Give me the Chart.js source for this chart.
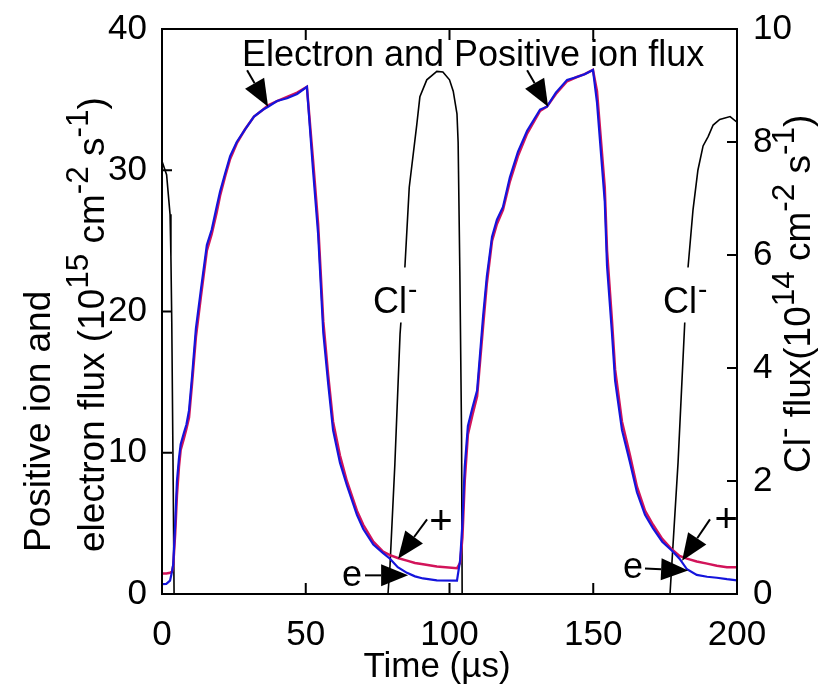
<!DOCTYPE html>
<html>
<head>
<meta charset="utf-8">
<script src="https://cdn.jsdelivr.net/npm/chart.js@4.4.0/dist/chart.umd.min.js"></script>
<style>html,body{margin:0;padding:0;background:#fff}</style>
</head>
<body>
<canvas id="fluxChart" width="822" height="686"></canvas>
<script>
// time axis (µs) shared by the ion and electron flux traces
const tFlux = [0, 1.5, 2.8, 3.5, 3.9, 4.6, 5.2, 5.9, 6.5, 7.6, 8.5, 9.4, 10.5, 11.8, 13.5, 15.6, 17.3, 19.0, 20.2, 22.0, 23.7, 26.0, 28.9, 32.0, 35.2, 36.9, 40.0, 43.5, 47.0, 50.4,
  52.5, 54.3, 56.1, 57.8, 59.5, 61.9, 64.3, 67.8, 70.0, 73.5, 76.9, 79.3, 82.0, 85.2, 88.0, 90.8, 95.6, 102.6,
  103.7, 104.5, 105.3, 106.4, 108.0, 109.6, 111.7, 113.0, 114.8, 116.5, 118.6, 121.0, 123.8, 127.0, 131.5, 133.9, 137.0, 140.9, 144.3, 147.0, 149.9,
  151.3, 154.0, 154.8, 156.5, 157.6, 160.0, 162.8, 165.2, 168.0, 170.8, 174.0, 177.4, 180.0, 182.6, 186.0, 189.6, 193.0, 196.5, 200];
// electron flux (1e15 cm^-2 s^-1)
const electronFlux = [0.70, 0.72, 0.95, 1.6, 2.1, 5.0, 8.0, 9.6, 10.6, 11.4, 12.0, 13.0, 15.5, 18.8, 21.5, 24.7, 25.8, 27.4, 28.5, 29.8, 31.0, 32.0, 32.9, 33.8, 34.3, 34.5, 34.9, 35.1, 35.4, 35.9,
  30.1, 25.5, 18.5, 14.9, 11.6, 9.3, 7.7, 5.6, 4.6, 3.5, 2.9, 2.5, 1.9, 1.5, 1.25, 1.1, 0.97, 0.95,
  2.4, 5.0, 9.0, 11.9, 13.2, 14.4, 19.7, 22.5, 25.3, 26.5, 27.4, 29.5, 31.3, 32.8, 34.3, 34.5, 35.5, 36.4, 36.6, 36.8, 37.1,
  34.8, 27.8, 23.2, 18.5, 15.1, 11.6, 9.3, 7.2, 5.6, 4.65, 3.7, 3.06, 2.5, 1.75, 1.35, 1.22, 1.15, 1.05, 0.97];
// positive ion flux (1e15 cm^-2 s^-1)
const ionFlux = [1.45, 1.45, 1.5, 1.6, 2.0, 4.3, 7.0, 9.0, 10.2, 11.0, 11.7, 12.5, 15.0, 18.2, 21.0, 24.3, 25.5, 27.0, 28.2, 29.6, 30.8, 31.9, 32.9, 33.8, 34.3, 34.6, 34.9, 35.2, 35.5, 35.9,
  30.8, 26.2, 19.3, 15.5, 12.2, 9.8, 8.0, 5.9, 4.9, 3.7, 3.0, 2.75, 2.55, 2.36, 2.2, 2.1, 1.95, 1.82,
  2.2, 4.0, 8.0, 11.3, 12.7, 14.0, 19.0, 22.0, 25.0, 26.2, 27.2, 29.2, 31.0, 32.6, 34.2, 34.5, 35.4, 36.3, 36.6, 36.8, 37.1,
  35.6, 28.8, 24.3, 19.4, 15.9, 12.2, 9.8, 7.6, 5.9, 4.9, 3.9, 3.15, 2.7, 2.5, 2.3, 2.15, 2.0, 1.9, 1.9];
// Cl- flux (1e14 cm^-2 s^-1), right axis
const tCl = [0, 1.6, 2.8, 3.1, 3.4, 3.7, 3.9, 4.2, 78.6, 79.3, 81.0, 82.8, 84.5, 86.0, 88.6, 89.7, 92.1, 95.6, 97.7, 100.0, 101.3, 102.6, 103.0, 103.6, 104.2, 104.4,
  176.7, 179.5, 181.9, 183.0, 184.7, 186.4, 188.2, 190.0, 191.7, 194.0, 197.6, 200];
const clFlux = [7.66, 7.42, 6.72, 5.97, 4.81, 3.08, 1.93, 0, 0, 0.5, 2.3, 4.6, 5.8, 7.2, 8.3, 8.8, 9.1, 9.25, 9.24, 9.1, 8.9, 8.5, 8.0, 5.7, 2.8, 0,
  0, 2.33, 4.88, 5.8, 6.8, 7.5, 7.93, 8.1, 8.3, 8.4, 8.45, 8.35];

const xTicks = [0, 50, 100, 150, 200];
const leftTicks = [0, 10, 20, 30, 40];
const rightTicks = [0, 2, 4, 6, 8, 10];

const FONT = '"Liberation Sans", Arial, sans-serif';
Chart.defaults.font.family = FONT;
Chart.defaults.color = '#000';

function pts(xs, ys) { return xs.map((x, i) => ({ x: x, y: ys[i] })); }

function richText(ctx, runs, x, y, size, rot) {
  ctx.save();
  ctx.translate(x, y);
  ctx.rotate(rot);
  ctx.textAlign = 'left';
  ctx.textBaseline = 'alphabetic';
  let cx = 0;
  runs.forEach(r => {
    const s = r.sup ? size * 0.85 : size;
    ctx.font = s + 'px ' + FONT;
    ctx.fillText(r.t, cx, r.sup ? -size * 0.42 : 0);
    cx += ctx.measureText(r.t).width;
  });
  ctx.restore();
}

function arrow(ctx, x0, y0, x1, y1) {
  const dx = x1 - x0, dy = y1 - y0, len = Math.hypot(dx, dy);
  const ux = dx / len, uy = dy / len;
  const bx = x1 - ux * 27, by = y1 - uy * 27;
  ctx.beginPath();
  ctx.moveTo(x0, y0);
  ctx.lineTo(bx, by);
  ctx.lineWidth = 2;
  ctx.stroke();
  ctx.beginPath();
  ctx.moveTo(x1, y1);
  ctx.lineTo(bx - uy * 11, by + ux * 11);
  ctx.lineTo(bx + uy * 11, by - ux * 11);
  ctx.closePath();
  ctx.fill();
}

const overlay = {
  id: 'overlay',
  afterDraw(chart) {
    const { ctx, chartArea: a, scales } = chart;
    const X = v => scales.x.getPixelForValue(v);
    const Y = v => scales.y.getPixelForValue(v);
    const Y2 = v => scales.y2.getPixelForValue(v);
    ctx.save();
    ctx.strokeStyle = '#000';
    ctx.fillStyle = '#000';
    ctx.lineWidth = 2;
    ctx.strokeRect(a.left, a.top, a.right - a.left, a.bottom - a.top);

    // inward tick marks
    ctx.beginPath();
    xTicks.slice(1, -1).forEach(v => {
      ctx.moveTo(X(v), a.bottom); ctx.lineTo(X(v), a.bottom - 11);
      ctx.moveTo(X(v), a.top); ctx.lineTo(X(v), a.top + 11);
    });
    leftTicks.slice(1, -1).forEach(v => { ctx.moveTo(a.left, Y(v)); ctx.lineTo(a.left + 10, Y(v)); });
    rightTicks.slice(1, -1).forEach(v => { ctx.moveTo(a.right, Y2(v)); ctx.lineTo(a.right - 10, Y2(v)); });
    ctx.stroke();

    // Cl- labels with white box over the trace
    [73.4, 174.3].forEach(t => {
      const x = X(t), y = Y(19.86);
      ctx.font = '36px ' + FONT;
      const w = ctx.measureText('Cl').width + 14;
      ctx.fillStyle = '#fff';
      ctx.fillRect(x - 2, y - 46, w + 4, 55);
      ctx.fillStyle = '#000';
      ctx.save();
      ctx.font = '36px ' + FONT;
      ctx.textAlign = 'left';
      ctx.textBaseline = 'alphabetic';
      ctx.fillText('Cl', x, y);
      const cw = ctx.measureText('Cl').width;
      ctx.font = '28px ' + FONT;
      ctx.fillText('-', x + cw + 1, y - 15);
      ctx.restore();
    });

    // top annotation
    ctx.font = '36px ' + FONT;
    ctx.textAlign = 'left';
    ctx.textBaseline = 'alphabetic';
    ctx.fillText('Electron and Positive ion flux', X(27.8), Y(37.4));

    // arrows
    ctx.strokeStyle = '#000';
    arrow(ctx, X(29.6), Y(37.08), X(36.9), Y(34.5));
    arrow(ctx, X(127), Y(37.08), X(134.3), Y(34.5));
    arrow(ctx, X(92.2), Y(5.28), X(82.1), Y(2.5));
    arrow(ctx, X(190.6), Y(5.28), X(180.9), Y(2.36));
    arrow(ctx, X(70.6), Y(1.32), X(85.6), Y(1.32));
    arrow(ctx, X(168), Y(1.8), X(183), Y(1.67));

    ctx.textAlign = 'center';
    ctx.textBaseline = 'middle';
    ctx.font = '40px ' + FONT;
    ctx.fillText('+', X(97), Y(5.0));
    ctx.fillText('+', X(196.2), Y(5.2));
    ctx.font = '36px ' + FONT;
    ctx.fillText('e', X(66.1), Y(1.25));
    ctx.fillText('e', X(163.8), Y(1.8));

    // axis titles
    ctx.textBaseline = 'alphabetic';
    ctx.textAlign = 'center';
    ctx.font = '35px ' + FONT;
    ctx.fillText('Time (\u00b5s)', 437, 677);

    richText(ctx, [{ t: 'Positive ion and' }], 50, 552, 37, -Math.PI / 2);
    richText(ctx, [{ t: 'electron flux (10' }, { t: '15', sup: true }, { t: ' cm' }, { t: '-2', sup: true },
      { t: ' s' }, { t: '-1', sup: true }, { t: ')' }], 104, 552, 37, -Math.PI / 2);
    richText(ctx, [{ t: 'Cl' }, { t: '-', sup: true }, { t: ' flux(10' }, { t: '14', sup: true }, { t: ' cm' },
      { t: '-2', sup: true }, { t: ' s' }, { t: '-1', sup: true }, { t: ')' }], 810, 473, 37, -Math.PI / 2);
    ctx.restore();
  }
};

new Chart(document.getElementById('fluxChart'), {
  type: 'line',
  data: {
    datasets: [
      { label: 'Electron', data: pts(tFlux, electronFlux), borderColor: '#1414dc', borderWidth: 2.2, yAxisID: 'y', order: 0 },
      { label: 'Positive ion', data: pts(tFlux, ionFlux), borderColor: '#d2145a', borderWidth: 2.5, yAxisID: 'y', order: 1 },
      { label: 'Cl-', data: pts(tCl, clFlux), borderColor: '#000', borderWidth: 1.6, yAxisID: 'y2', order: 2 }
    ]
  },
  options: {
    responsive: false,
    animation: false,
    layout: { padding: { top: 18 } },
    elements: { point: { radius: 0 }, line: { tension: 0 } },
    plugins: { legend: { display: false }, tooltip: { enabled: false } },
    scales: {
      x: {
        type: 'linear', min: 0, max: 200,
        afterBuildTicks: s => { s.ticks = xTicks.map(v => ({ value: v })); },
        afterFit: s => { s.height = 92; },
        ticks: { font: { size: 35 }, padding: 12, maxRotation: 0, autoSkip: false },
        grid: { display: false },
        border: { display: false }
      },
      y: {
        position: 'left', min: 0, max: 40,
        afterBuildTicks: s => { s.ticks = leftTicks.map(v => ({ value: v })); },
        afterFit: s => { s.width = 162; },
        ticks: { font: { size: 35 }, padding: 7 },
        grid: { display: false },
        border: { display: false }
      },
      y2: {
        position: 'right', min: 0, max: 10,
        afterBuildTicks: s => { s.ticks = rightTicks.map(v => ({ value: v })); },
        afterFit: s => { s.width = 85; },
        ticks: { font: { size: 35 }, padding: 8 },
        grid: { display: false },
        border: { display: false }
      }
    }
  },
  plugins: [overlay]
});
</script>
</body>
</html>
